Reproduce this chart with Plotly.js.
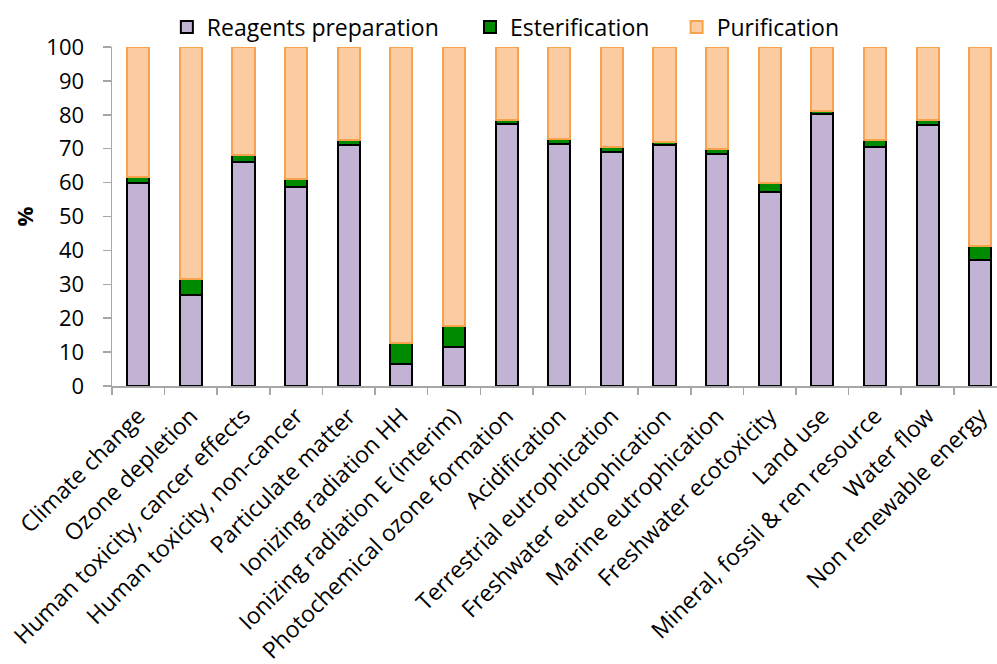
<!DOCTYPE html>
<html>
<head>
<meta charset="utf-8">
<script src="https://cdn.plot.ly/plotly-3.0.1.min.js"></script>
<style>html,body{margin:0;padding:0;background:#fff;}#chart{width:997px;height:664px;}</style>
</head>
<body>
<div id="chart"></div>
<script>
const categories = [
  "Climate change", "Ozone depletion", "Human toxicity, cancer effects",
  "Human toxicity, non-cancer", "Particulate matter", "Ionizing radiation HH",
  "Ionizing radiation E (interim)", "Photochemical ozone formation", "Acidification",
  "Terrestrial eutrophication", "Freshwater eutrophication", "Marine eutrophication",
  "Freshwater ecotoxicity", "Land use", "Mineral, fossil & ren resource",
  "Water flow", "Non renewable energy"
];
const reagents = [60.0, 26.8, 66.0, 58.7, 71.0, 6.4, 11.5, 77.2, 71.4, 68.9, 71.0, 68.3, 57.3, 80.1, 70.5, 77.0, 37.2];
const esterification = [1.6, 4.7, 2.1, 2.5, 1.6, 6.4, 6.1, 1.2, 1.6, 1.6, 0.9, 1.6, 2.7, 0.9, 2.0, 1.6, 4.2];
const purification = [38.4, 68.5, 31.9, 38.8, 27.4, 87.2, 82.4, 21.6, 27.0, 29.5, 28.1, 30.1, 40.0, 19.0, 27.5, 21.4, 58.6];
const yTicks = [0, 10, 20, 30, 40, 50, 60, 70, 80, 90, 100];

const font = "'Open Sans', Lato, sans-serif";
const traces = [
  {type: "bar", name: "Reagents preparation", x: categories, y: reagents, legend: "legend",
   marker: {color: "#C2B3D4", line: {color: "#000000", width: 2}}},
  {type: "bar", name: "Esterification", x: categories, y: esterification, legend: "legend2",
   marker: {color: "#008A00", line: {color: "#000000", width: 2}}},
  {type: "bar", name: "Purification", x: categories, y: purification, legend: "legend3",
   marker: {color: "#FBCBA2", line: {color: "#F8A24E", width: 2}}}
];
const legFont = {family: font, size: 23, color: "#000000"};
const mkLegend = (x) => ({orientation: "h", x: x, xanchor: "left", y: 1.059, yanchor: "middle",
  font: legFont, bgcolor: "rgba(0,0,0,0)"});
const layout = {
  barmode: "stack",
  bargap: 0.58,
  width: 997, height: 664,
  margin: {l: 112, r: 0, t: 47, b: 278},
  paper_bgcolor: "#ffffff", plot_bgcolor: "#ffffff",
  font: {family: font, size: 20, color: "#000000"},
  showlegend: true,
  legend: mkLegend(0.062),
  legend2: mkLegend(0.4045),
  legend3: mkLegend(0.638),
  xaxis: {type: "category", range: [-0.5, 16.32], tickangle: -45,
          ticks: "outside", tickson: "boundaries", ticklen: 7, tickcolor: "#A6A6A6", tickwidth: 1.5,
          showline: true, linecolor: "#A6A6A6", linewidth: 1.5, showgrid: false,
          ticklabelstandoff: 6,
          tickfont: {family: font, size: 23, color: "#000000"}},
  yaxis: {range: [0, 100], tickvals: yTicks, ticktext: yTicks.map(String),
          ticks: "outside", ticklen: 8, tickcolor: "#A6A6A6", tickwidth: 1.5,
          showline: true, linecolor: "#A6A6A6", linewidth: 1.5, showgrid: false, zeroline: false,
          ticklabelstandoff: 14,
          tickfont: {family: font, size: 22, color: "#000000"},
          title: {text: "<b>%</b>", font: {family: font, size: 22, color: "#000000"}, standoff: 6}}
};
Plotly.newPlot("chart", traces, layout, {displayModeBar: false, staticPlot: true});
</script>
</body>
</html>
